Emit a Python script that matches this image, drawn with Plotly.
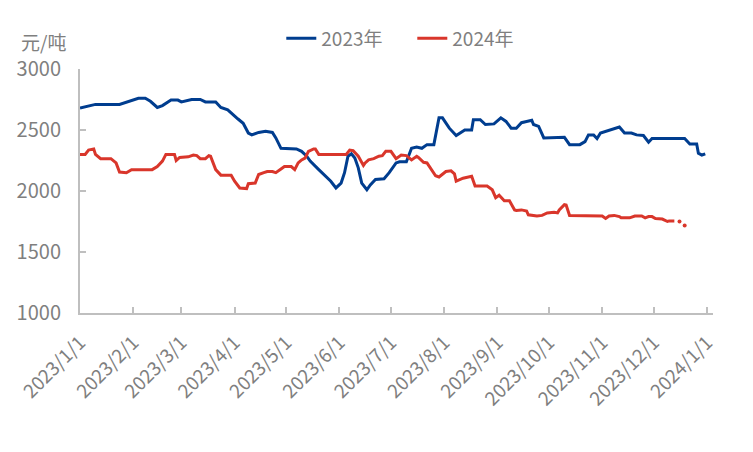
import pandas as pd
import plotly.graph_objects as go

# ---------------- data ----------------
dates_2023 = ["2023-01-01","2023-01-07","2023-01-10","2023-01-24","2023-01-27","2023-02-01","2023-02-04","2023-02-08",
              "2023-02-11","2023-02-15","2023-02-18","2023-02-23","2023-02-27","2023-03-01","2023-03-04","2023-03-07",
              "2023-03-12","2023-03-15","2023-03-21","2023-03-24","2023-03-28","2023-04-01","2023-04-03","2023-04-06",
              "2023-04-09","2023-04-11","2023-04-15","2023-04-19","2023-04-23","2023-04-25","2023-04-28","2023-05-07",
              "2023-05-10","2023-05-13","2023-05-15","2023-05-20","2023-05-23","2023-05-27","2023-05-30","2023-06-02",
              "2023-06-04","2023-06-06","2023-06-08","2023-06-10","2023-06-12","2023-06-14","2023-06-17","2023-06-19",
              "2023-06-22","2023-06-27","2023-06-30","2023-07-04","2023-07-06","2023-07-10","2023-07-13","2023-07-16",
              "2023-07-19","2023-07-22","2023-07-26","2023-07-29","2023-07-31","2023-08-04","2023-08-08","2023-08-13",
              "2023-08-17","2023-08-18","2023-08-22","2023-08-25","2023-08-30","2023-09-03","2023-09-06","2023-09-09",
              "2023-09-12","2023-09-15","2023-09-18","2023-09-21","2023-09-22","2023-09-25","2023-09-28","2023-10-04",
              "2023-10-10","2023-10-13","2023-10-19","2023-10-22","2023-10-24","2023-10-27","2023-10-29","2023-10-31",
              "2023-11-03","2023-11-05","2023-11-08","2023-11-11","2023-11-14","2023-11-18","2023-11-21","2023-11-25",
              "2023-11-28","2023-11-30","2023-12-19","2023-12-22","2023-12-26","2023-12-27","2023-12-29","2023-12-31"]
price_2023 = [2680,2700,2710,2710,2725,2745,2760,2760,
              2735,2685,2700,2745,2745,2730,2740,2750,
              2750,2730,2730,2685,2665,2610,2590,2555,
              2475,2460,2480,2490,2480,2435,2350,2345,
              2325,2285,2245,2175,2135,2080,2025,2065,
              2150,2285,2305,2270,2190,2065,2010,2050,
              2095,2100,2150,2230,2240,2240,2350,2360,
              2350,2380,2380,2600,2600,2515,2455,2500,
              2500,2585,2585,2545,2550,2600,2570,2515,
              2515,2560,2570,2580,2545,2530,2435,2440,
              2440,2380,2380,2405,2460,2460,2430,2475,
              2490,2500,2515,2525,2475,2475,2460,2455,
              2400,2430,2430,2385,2385,2310,2295,2305]

dates_2024 = ["2024-01-01","2024-01-04","2024-01-06","2024-01-09","2024-01-10","2024-01-13","2024-01-19","2024-01-22",
              "2024-01-24","2024-01-28","2024-01-31","2024-02-12","2024-02-15","2024-02-18","2024-02-20","2024-02-25",
              "2024-02-26","2024-02-28","2024-03-05","2024-03-08","2024-03-10","2024-03-12","2024-03-15","2024-03-17",
              "2024-03-18","2024-03-21","2024-03-24","2024-03-30","2024-04-01","2024-04-04","2024-04-08","2024-04-09",
              "2024-04-13","2024-04-15","2024-04-18","2024-04-20","2024-04-23","2024-04-25","2024-04-28","2024-04-30",
              "2024-05-04","2024-05-06","2024-05-08","2024-05-10","2024-05-12","2024-05-14","2024-05-17","2024-05-18",
              "2024-05-20","2024-06-05","2024-06-07","2024-06-09","2024-06-12","2024-06-15","2024-06-16","2024-06-18",
              "2024-06-21","2024-06-24","2024-06-26","2024-06-28","2024-07-01","2024-07-03","2024-07-04","2024-07-07",
              "2024-07-10","2024-07-13","2024-07-16","2024-07-17","2024-07-20","2024-07-22","2024-07-24","2024-07-27",
              "2024-07-29","2024-08-02","2024-08-05","2024-08-07","2024-08-08","2024-08-12","2024-08-17","2024-08-19",
              "2024-08-26","2024-08-29","2024-08-31","2024-09-02","2024-09-05","2024-09-08","2024-09-11","2024-09-12",
              "2024-09-15","2024-09-18","2024-09-19","2024-09-24","2024-09-27","2024-09-30","2024-10-04","2024-10-06",
              "2024-10-07","2024-10-10","2024-10-11","2024-10-13","2024-11-01","2024-11-03","2024-11-05","2024-11-08",
              "2024-11-11","2024-11-12","2024-11-17","2024-11-20","2024-11-24","2024-11-26","2024-11-28","2024-11-30",
              "2024-12-02","2024-12-06","2024-12-09","2024-12-10","2024-12-13","2024-12-14","2024-12-16","2024-12-17",
              "2024-12-19"]
price_2024 = [2300,2300,2335,2345,2300,2265,2265,2230,
              2155,2150,2175,2175,2200,2245,2300,2300,
              2250,2275,2280,2295,2290,2265,2265,2290,
              2285,2175,2130,2130,2080,2025,2020,2060,
              2065,2135,2150,2160,2160,2150,2180,2200,
              2200,2175,2230,2255,2270,2325,2345,2345,
              2300,2300,2335,2330,2285,2210,2230,2255,
              2265,2285,2290,2325,2325,2280,2265,2295,
              2290,2255,2285,2275,2235,2230,2190,2125,
              2115,2160,2165,2140,2080,2105,2120,2040,
              2040,2010,1945,1965,1920,1920,1845,1840,
              1845,1835,1805,1795,1800,1820,1825,1820,
              1845,1888,1885,1800,1795,1775,1795,1800,
              1790,1780,1780,1795,1795,1780,1790,1790,
              1775,1770,1750,1755,1755,None,1750,None,
              1718]

tick_labels = ["2023/1/1","2023/2/1","2023/3/1","2023/4/1","2023/5/1","2023/6/1","2023/7/1",
               "2023/8/1","2023/9/1","2023/10/1","2023/11/1","2023/12/1","2024/1/1"]
series_names = ["2023年", "2024年"]
y_ticks = [1000, 1500, 2000, 2500, 3000]
unit_label = "元/吨"

# ---------------- build ----------------
FONT = "Noto Sans CJK SC"
GREY = "#7f7f7f"
AXIS = "#bfbfbf"
BLUE = "#003D8F"
RED = "#D9362B"

x23 = pd.to_datetime(dates_2023)
# 2024 values are drawn on the same month/day axis as 2023
x24 = pd.to_datetime(dates_2024) - pd.DateOffset(years=1)
tickvals = pd.to_datetime(tick_labels, format="%Y/%m/%d")

fig = go.Figure()
fig.add_trace(go.Scatter(x=x23, y=price_2023, mode="lines", name=series_names[0],
                         line=dict(color=BLUE, width=3), connectgaps=False))
fig.add_trace(go.Scatter(x=x24, y=price_2024, mode="lines", name=series_names[1],
                         line=dict(color=RED, width=3), connectgaps=False))

# isolated points (no neighbours) drawn as small dots
iso_x, iso_y = [], []
for i, v in enumerate(price_2024):
    if v is None:
        continue
    prev_none = i == 0 or price_2024[i - 1] is None
    next_none = i == len(price_2024) - 1 or price_2024[i + 1] is None
    if prev_none and next_none:
        iso_x.append(x24[i]); iso_y.append(v)
fig.add_trace(go.Scatter(x=iso_x, y=iso_y, mode="markers", showlegend=False,
                         marker=dict(color=RED, size=4), hoverinfo="skip"))

fig.update_layout(
    width=753, height=452,
    margin=dict(l=80, r=40, t=69, b=139),
    paper_bgcolor="white", plot_bgcolor="white",
    font=dict(family=FONT, size=19, color=GREY),
    showlegend=True,
    legend=dict(orientation="h", x=0.318, xanchor="left", y=1.125, yanchor="middle",
                font=dict(family=FONT, size=19, color=GREY), bgcolor="rgba(0,0,0,0)",
                entrywidth=86, entrywidthmode="pixels", itemwidth=30, tracegroupgap=0),
    annotations=[dict(text=unit_label, xref="paper", yref="paper", x=-0.097, y=1.112,
                      xanchor="left", yanchor="middle", showarrow=False,
                      font=dict(family=FONT, size=19, color=GREY))],
)
fig.update_xaxes(
    type="date", range=["2023-01-01", "2024-01-04 12:00"],
    tickmode="array", tickvals=tickvals, ticktext=tick_labels, tickangle=-45,
    showgrid=False, zeroline=False, showline=True, linecolor=AXIS, linewidth=2,
    ticks="inside", ticklen=6, tickwidth=2, tickcolor=AXIS,
    tickfont=dict(family=FONT, size=19, color=GREY), ticklabelstandoff=9,
)
fig.update_yaxes(
    range=[1000, 3000], tickmode="array", tickvals=y_ticks,
    showgrid=False, zeroline=False, showline=True, linecolor=AXIS, linewidth=2,
    ticks="inside", ticklen=6, tickwidth=2, tickcolor=AXIS,
    tickfont=dict(family=FONT, size=20, color=GREY), ticklabelstandoff=13,
)

fig.write_html("out.html")
